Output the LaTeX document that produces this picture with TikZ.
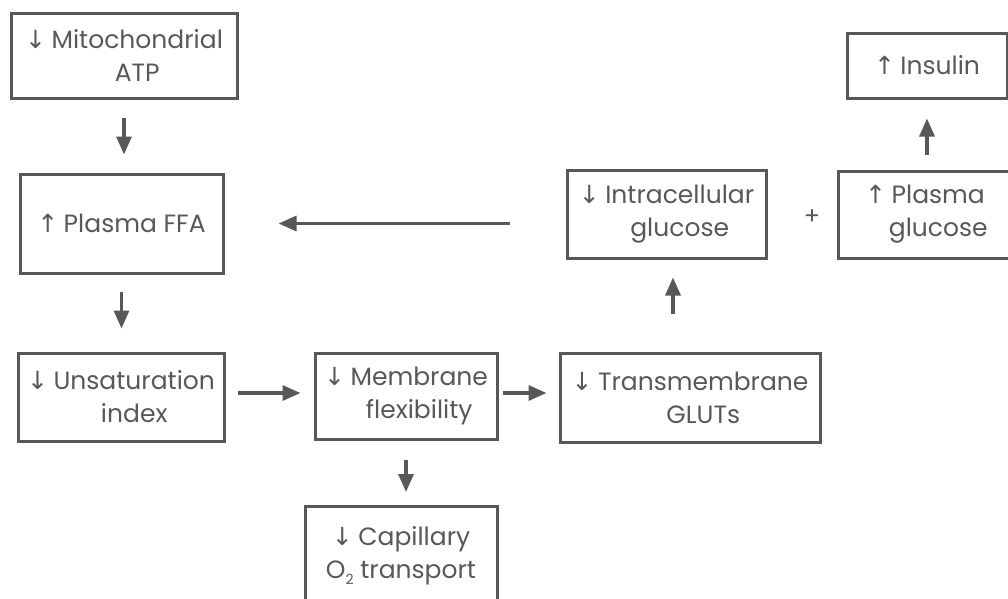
\documentclass[tikz,border=0pt]{standalone}
\usepackage{fontspec}
\setmainfont{Poppins}
\newfontfamily\arrowfont{DejaVu Sans}
\usetikzlibrary{arrows.meta}
\definecolor{boxgray}{RGB}{88,88,88}
\definecolor{textgray}{RGB}{88,88,88}
\newcommand{\dn}{{\arrowfont\char"2193}\hspace{0.22em}}
\newcommand{\up}{{\arrowfont\char"2191}\hspace{0.22em}}
\newcommand{\pad}[1]{\hphantom{#1}}
\newcommand{\sub}[1]{\raisebox{-6pt}{\fontsize{14}{14}\selectfont #1}}

\begin{document}
\begin{tikzpicture}[x=1pt, y=-1pt,
  box/.style={draw=boxgray, line width=3pt, text=textgray, align=center,
    font=\fontsize{25}{33}\selectfont, inner sep=0pt},
  flow/.style={draw=boxgray, line width=3.2pt, -{Triangle[length=18pt,width=15pt]}}]
\useasboundingbox (0,0) rectangle (1008,598);

\node[box, minimum width=226, minimum height=85] (mito) at (124,55.5) {\dn Mitochondrial\\\pad{\dn}ATP};
\node[box, minimum width=203, minimum height=99] (ffa) at (121.5,223.5) {\up Plasma FFA};
\node[box, minimum width=206, minimum height=88] (unsat) at (121,397) {\dn Unsaturation\\\pad{\dn}index};
\node[box, minimum width=182, minimum height=86] (membr) at (406,396) {\dn Membrane\\\pad{\dn}flexibility};
\node[box, minimum width=260, minimum height=89] (trans) at (690,397.5) {\dn Transmembrane\\\pad{\dn}GLUTs};
\node[box, minimum width=192, minimum height=99, anchor=north] (capil) at (401,505) {\dn Capillary\\O\sub{2} transport};
\node[box, minimum width=199, minimum height=88] (intra) at (666.5,214) {\dn Intracellular\\\pad{\dn}glucose};
\node[box, minimum width=174, minimum height=87] (pglu) at (925,214.5) {\up Plasma\\\pad{\up}glucose};
\node[box, minimum width=160, minimum height=65] (insul) at (927,65.5) {\up Insulin};
\node[text=textgray, font=\fontsize{24}{32}\selectfont, inner sep=0pt] (plus) at (812,217) {+};

% vertical flow on the left
\draw[flow, shorten <=18pt, shorten >=18pt] (mito.south) -- (mito.south |- ffa.north);
\draw[flow, shorten <=17pt, shorten >=23pt] (ffa.south) -- (ffa.south |- unsat.north);
% bottom row
\draw[flow, shorten <=12pt, shorten >=13pt] ([yshift=4pt]unsat.east) -- ([yshift=4pt]unsat.east -| membr.west);
\draw[flow, shorten <=4pt, shorten >=12pt] ([yshift=3pt]membr.east) -- ([yshift=3pt]membr.east -| trans.west);
\draw[flow, shorten <=19pt, shorten >=13pt] (membr.south) -- (membr.south |- capil.north);
% back up to the top row
\draw[flow, shorten <=38pt, shorten >=18pt] ([xshift=6.5pt]intra.south |- trans.north) -- ([xshift=6.5pt]intra.south);
\draw[flow, shorten <=56pt, shorten >=54pt] (intra.west |- ffa.east) -- (ffa.east);
\draw[flow, shorten <=15pt, shorten >=19pt] (insul.south |- pglu.north) -- (insul.south);
\end{tikzpicture}
\end{document}
